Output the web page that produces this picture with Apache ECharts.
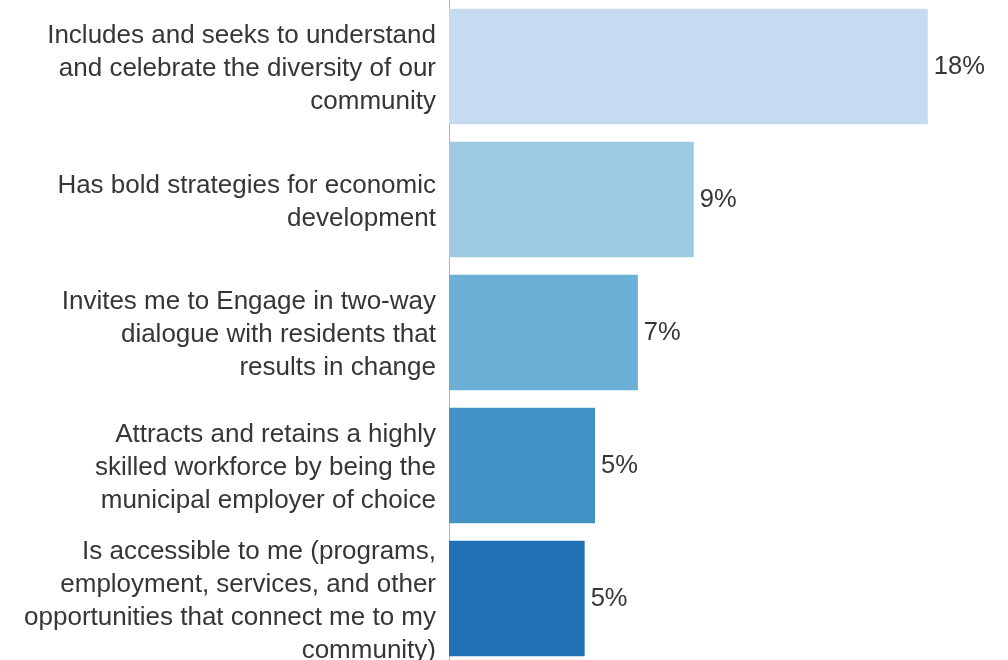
<!DOCTYPE html>
<html>
<head>
<meta charset="utf-8">
<style>
  html, body { margin: 0; padding: 0; background: #ffffff; }
  #chart { width: 1008px; height: 660px; }
</style>
<script src="https://cdn.jsdelivr.net/npm/echarts@6/dist/echarts.min.js"></script>
</head>
<body>
<div id="chart"></div>
<script>
// Statements, top to bottom
const categories = [
  'Includes and seeks to understand\nand celebrate the diversity of our\ncommunity',
  'Has bold strategies for economic\ndevelopment',
  'Invites me to Engage in two-way\ndialogue with residents that\nresults in change',
  'Attracts and retains a highly\nskilled workforce by being the\nmunicipal employer of choice',
  'Is accessible to me (programs,\nemployment, services, and other\nopportunities that connect me to my\ncommunity)'
];

// Share of respondents, percent
const values = [18.0, 9.2, 7.1, 5.49, 5.1];

// One shade of blue per bar
const barColors = ['#c6dbef', '#9ecae1', '#6baed6', '#4292c6', '#2171b5'];

const textColor = '#363636';
const fontFamily = '"Liberation Sans", Arial, sans-serif';

const chart = echarts.init(document.getElementById('chart'), null, { renderer: 'canvas' });

chart.setOption({
  animation: false,
  backgroundColor: '#ffffff',
  // the last row runs a little past the bottom edge of the page
  grid: { left: 449, top: 0, width: 532, height: 665, outerBoundsMode: 'none', containLabel: false },
  xAxis: {
    type: 'value',
    min: 0,
    max: 20,
    show: false
  },
  yAxis: {
    type: 'category',
    inverse: true,
    data: categories,
    axisLine: { show: true, lineStyle: { color: '#b4b4b4', width: 1 } },
    axisTick: { show: false },
    axisLabel: {
      margin: 13,
      align: 'right',
      // a thin spacer line on top nudges the text block slightly below the row centre
      formatter: v => '{s| }\n' + v.split('\n').map(line => '{t|' + line + '}').join('\n'),
      rich: {
        s: { fontSize: 1, lineHeight: 5 },
        t: {
          color: textColor,
          fontSize: 26,
          fontFamily: fontFamily,
          lineHeight: 33,
          align: 'right'
        }
      }
    }
  },
  series: [{
    type: 'bar',
    data: values.map((v, i) => ({ value: v, itemStyle: { color: barColors[i] } })),
    barCategoryGap: '13%',
    label: {
      show: true,
      position: 'right',
      distance: 6,
      color: textColor,
      fontSize: 25.5,
      fontFamily: fontFamily,
      formatter: p => Math.round(p.value) + '%'
    }
  }]
});
</script>
</body>
</html>
